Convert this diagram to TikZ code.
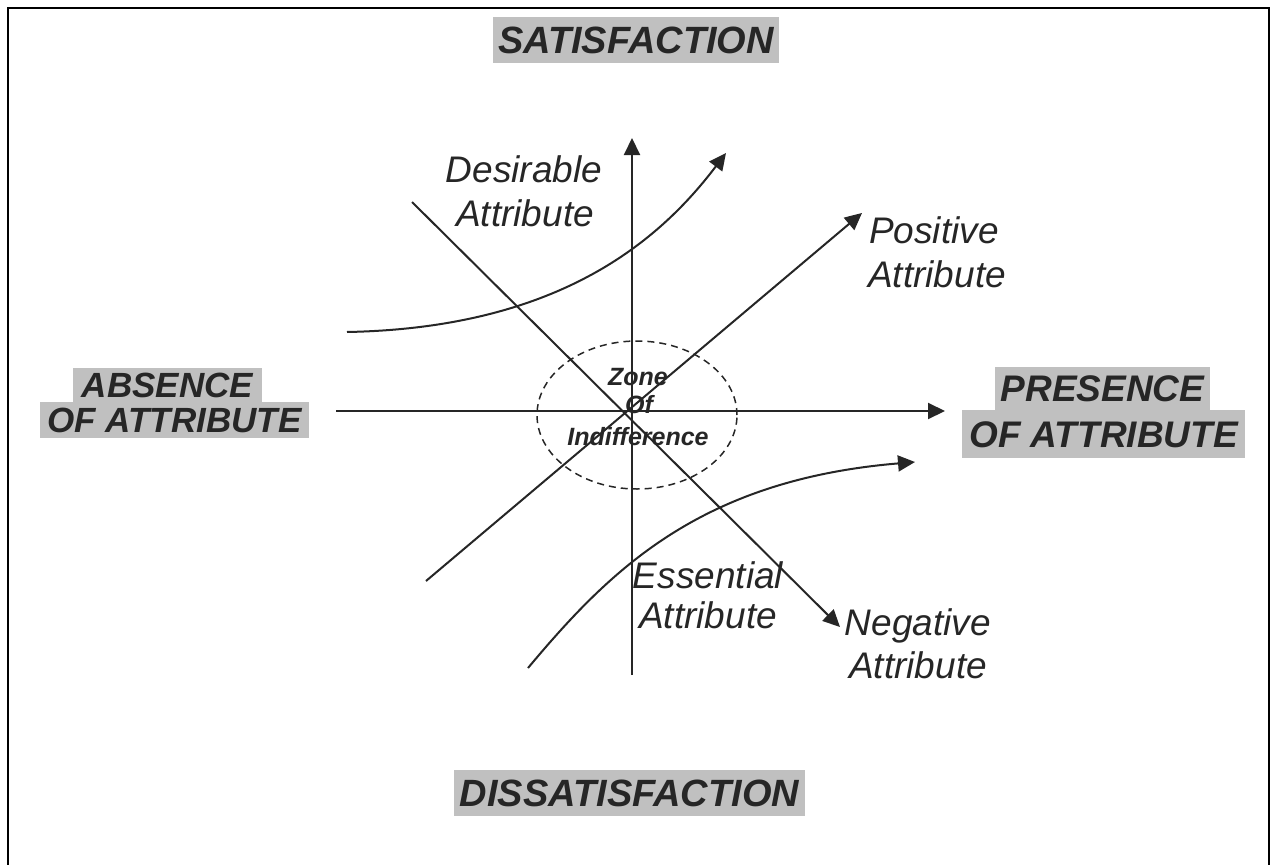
\documentclass[tikz,border=0pt]{standalone}
\usepackage{fontspec}
\setmainfont{Liberation Sans}
\usetikzlibrary{arrows.meta,shapes.geometric}
\definecolor{hl}{RGB}{192,192,192}
\definecolor{ink}{RGB}{38,38,38}
\begin{document}
\begin{tikzpicture}[x=1pt,y=-1pt,
  axis/.style={draw=ink, line width=2pt},
  arr/.style={axis, -{Triangle[length=17pt,width=16pt]}},
  lbl/.style={text=ink, inner sep=0pt, font=\itshape\fontsize{37}{42}\selectfont},
  big/.style={fill=hl, text=ink, inner sep=0pt, text depth=0pt},
  zone/.style={text=ink, inner sep=0pt, text height=17.5pt, text depth=0pt, font=\bfseries\itshape\fontsize{25}{28}\selectfont}
]
\useasboundingbox (0,0) rectangle (1270,865);
% frame
\coordinate (f1) at (8,867);
\coordinate (f2) at (8,8);
\coordinate (f3) at (1269,8);
\coordinate (f4) at (1269,867);
\draw[line width=2.5pt, black] (f1) -- (f2) -- (f3) -- (f4);

% big labels
\node[big, font=\bfseries\itshape\fontsize{38}{40}\selectfont, text height=27.2pt, minimum width=286pt, minimum height=46pt] (sat) at (636,40) {SATISFACTION};
\node[big, font=\bfseries\itshape\fontsize{38}{40}\selectfont, text height=27.2pt, minimum width=351pt, minimum height=46pt] (dis) at (629.5,793) {DISSATISFACTION};
\node[big, font=\bfseries\itshape\fontsize{35}{36}\selectfont, text height=25pt, minimum width=189pt, minimum height=34pt] (abs1) at (167.5,385) {ABSENCE};
\node[big, font=\bfseries\itshape\fontsize{35}{36}\selectfont, text height=25pt, minimum width=269pt, minimum height=36pt] (abs2) at (174.5,420) {OF ATTRIBUTE};
\node[big, font=\bfseries\itshape\fontsize{37}{40}\selectfont, text height=26.5pt, minimum width=215pt, minimum height=43pt] (pre1) at (1102.5,388.5) {PRESENCE};
\node[big, font=\bfseries\itshape\fontsize{37}{40}\selectfont, text height=26.5pt, minimum width=283pt, minimum height=48pt] (pre2) at (1103.5,434) {OF ATTRIBUTE};

% zone of indifference
\node[ellipse, draw=ink, line width=1.5pt, dash pattern=on 7pt off 5pt, minimum width=200pt, minimum height=148pt, inner sep=0pt] (zoi) at (637,415) {};

% axes
\coordinate (vb) at (632,675);
\coordinate (vt) at (632,138);
\draw[arr] (vb) -- (vt);
\coordinate (hla) at (336,411);
\coordinate (hlb) at (945,411);
\draw[arr] (hla) -- (hlb);

% diagonals
\coordinate (pa) at (426,581);
\coordinate (pb) at (862,213);
\draw[arr] (pa) -- (pb);
\coordinate (na) at (412,202);
\coordinate (nb) at (840,627);
\draw[arr] (na) -- (nb);

% curves
\coordinate (da) at (347,332);
\coordinate (db) at (726,153);
\draw[arr] (da) .. controls (560,328) and (660,240) .. (db);
\coordinate (ea) at (528,668);
\coordinate (eb) at (915,462);
\draw[arr] (ea) .. controls (610,570) and (700,480) .. (eb);

% zone text
\node[zone] (z1) at (638,377) {Zone};
\node[zone] (z2) at (639,405) {Of};
\node[zone] (z3) at (638,437) {Indifference};

% labels
\node[lbl, anchor=base] (des1) at (524,182) {Desirable};
\node[lbl, anchor=base] (des2) at (525,226) {Attribute};
\node[lbl, anchor=base west] (pos1) at (869,243) {Positive};
\node[lbl, anchor=base west] (pos2) at (868,287) {Attribute};
\node[lbl, anchor=base] (ess1) at (708,588) {Essential};
\node[lbl, anchor=base] (ess2) at (708,628) {Attribute};
\node[lbl, anchor=base] (neg1) at (918,635) {Negative};
\node[lbl, anchor=base] (neg2) at (918,678) {Attribute};
\end{tikzpicture}
\end{document}
